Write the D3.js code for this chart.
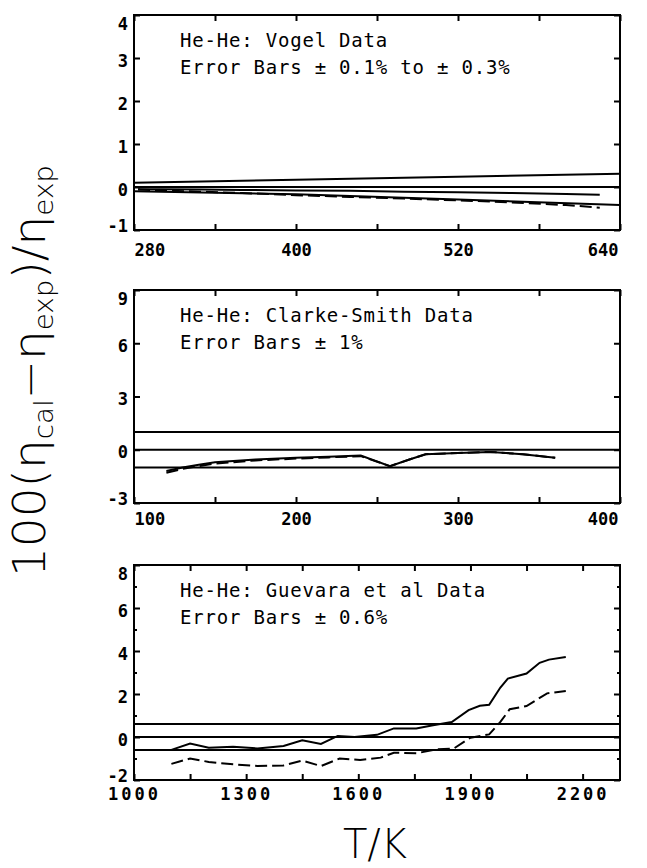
<!DOCTYPE html>
<html>
<head>
<meta charset="utf-8">
<script src="https://cdn.jsdelivr.net/npm/d3@7/dist/d3.min.js"></script>
<style>
  body { margin: 0; background: #fff; }
  svg { display: block; }
</style>
</head>
<body>
<svg id="chart" width="647" height="868"></svg>
<script>
// Vogel data (top panel)
var vogelT       = [283, 300, 330, 360, 400, 440, 480, 520, 560, 600, 625];
var vogelSolid   = [-0.05, -0.05, -0.06, -0.07, -0.08, -0.09, -0.11, -0.12, -0.14, -0.16, -0.18];
var vogelDashed  = [-0.06, -0.08, -0.11, -0.14, -0.19, -0.23, -0.27, -0.31, -0.36, -0.42, -0.48];
var vogelErrT    = [280, 400, 520, 640];
var vogelErrUp   = [0.10, 0.17, 0.24, 0.31];
var vogelErrLow  = [-0.10, -0.17, -0.29, -0.42];

// Clarke-Smith data (middle panel)
var clarkeT      = [120, 130, 140, 150, 175, 200, 220, 240, 258, 270, 280, 300, 320, 340, 360];
var clarkeSolid  = [-1.2, -1.0, -0.85, -0.7, -0.55, -0.45, -0.4, -0.33, -0.92, -0.55, -0.25, -0.18, -0.12, -0.25, -0.45];
var clarkeDashed = [-1.3, -1.08, -0.92, -0.78, -0.6, -0.5, -0.43, -0.36, -0.92, -0.55, -0.25, -0.18, -0.12, -0.25, -0.45];
var clarkeErr    = 1;

// Guevara et al data (bottom panel)
var guevaraT       = [1100, 1150, 1200, 1265, 1330, 1400, 1450, 1500, 1545, 1590, 1650, 1695, 1755, 1800, 1850, 1895, 1925, 1950, 1980, 2000, 2050, 2085, 2110, 2155];
var guevaraSolid   = [-0.6, -0.3, -0.5, -0.45, -0.53, -0.42, -0.15, -0.32, 0.05, 0.0, 0.1, 0.4, 0.4, 0.55, 0.7, 1.25, 1.45, 1.5, 2.3, 2.72, 2.95, 3.45, 3.6, 3.72];
var guevaraDashT   = [1100, 1150, 1200, 1265, 1330, 1400, 1450, 1500, 1550, 1605, 1660, 1695, 1755, 1810, 1855, 1900, 1950, 1980, 2005, 2050, 2105, 2155];
var guevaraDashed  = [-1.25, -1.0, -1.16, -1.27, -1.35, -1.32, -1.1, -1.35, -1.0, -1.07, -0.96, -0.73, -0.76, -0.57, -0.54, -0.03, 0.12, 0.7, 1.29, 1.44, 2.03, 2.14];
var guevaraErr     = 0.6;

// ticks and labels
var p1XTicks = [280, 340, 400, 460, 520, 580, 640];
var p1XLabels = [280, 400, 520, 640];
var p1YTicks = [-1, 0, 1, 2, 3, 4];
var p2XTicks = [100, 150, 200, 250, 300, 350, 400];
var p2XLabels = [100, 200, 300, 400];
var p2YTicks = [-3, 0, 3, 6, 9];
var p3XTicks = [1000, 1150, 1300, 1450, 1600, 1750, 1900, 2050, 2200];
var p3XLabels = [1000, 1300, 1600, 1900, 2200];
var p3YTicks = [-2, 0, 2, 4, 6, 8];
var p3YMinor = [-1, 1, 3, 5, 7];

var svg = d3.select('#chart');
svg.append('rect').attr('width', 647).attr('height', 868).attr('fill', '#fff');

var left = 134, right = 620;
var monoFont = '"DejaVu Sans Mono", "Liberation Mono", monospace';

function zip(xs, ys) {
    return xs.map(function(v, i) { return [v, ys[i]]; });
}

function drawPanel(p) {
    var x = d3.scaleLinear().domain(p.xDomain).range([left, right]);
    var y = d3.scaleLinear().domain(p.yDomain).range([p.bottom, p.top]);
    var g = svg.append('g');

    var line = d3.line().x(function(d) { return x(d[0]); }).y(function(d) { return y(d[1]); });

    // zero line and error bar lines
    g.append('path').attr('d', line([[p.xDomain[0], 0], [p.xDomain[1], 0]]))
        .attr('stroke', '#000').attr('stroke-width', 2).attr('fill', 'none');
    p.bounds.forEach(function(b) {
        g.append('path').attr('d', line(b))
            .attr('stroke', '#000').attr('stroke-width', 2).attr('fill', 'none');
    });

    // data lines
    p.series.forEach(function(s) {
        g.append('path').attr('d', line(s.data))
            .attr('stroke', '#000').attr('stroke-width', 2).attr('fill', 'none')
            .attr('stroke-dasharray', s.dash ? '12,5' : null);
    });

    var fmtX = function(d) { return p.xLabels.indexOf(d) >= 0 ? d : ''; };

    var bottomAxis = g.append('g').attr('transform', 'translate(0,' + p.bottom + ')')
        .call(d3.axisBottom(x).tickValues(p.xTicks).tickSize(-6).tickFormat(fmtX));
    g.append('g').attr('transform', 'translate(0,' + p.top + ')')
        .call(d3.axisTop(x).tickValues(p.xTicks).tickSize(-6).tickFormat(''));
    var leftAxis = g.append('g').attr('transform', 'translate(' + left + ',0)')
        .call(d3.axisLeft(y).tickValues(p.yTicks).tickSize(-6).tickFormat(function(d) { return d; }));
    g.append('g').attr('transform', 'translate(' + right + ',0)')
        .call(d3.axisRight(y).tickValues(p.yTicks).tickSize(-6).tickFormat(''));
    if (p.yMinor) {
        g.append('g').attr('transform', 'translate(' + left + ',0)')
            .call(d3.axisLeft(y).tickValues(p.yMinor).tickSize(-3).tickFormat(''));
        g.append('g').attr('transform', 'translate(' + right + ',0)')
            .call(d3.axisRight(y).tickValues(p.yMinor).tickSize(-3).tickFormat(''));
    }

    g.selectAll('.domain').remove();
    g.selectAll('.tick line').attr('stroke', '#000').attr('stroke-width', 2);
    g.selectAll('.tick text').attr('font-family', monoFont).attr('font-weight', 'bold')
        .attr('font-size', 17).attr('fill', '#000');

    // x labels: end ones pulled inside the box
    bottomAxis.selectAll('.tick text').each(function(d) {
        var t = d3.select(this).attr('y', p.xLabelY).attr('dy', 0)
            .attr('letter-spacing', p.xSpacing || 0);
        if (d === p.xDomain[0] && p.xClampLeft) t.attr('text-anchor', 'start').attr('x', 0);
        if (d === p.xDomain[1]) t.attr('text-anchor', 'end').attr('x', -2);
    });

    // y labels: end ones kept within the box height
    leftAxis.selectAll('.tick text').each(function(d) {
        var yy = y(d);
        var c = Math.min(Math.max(yy + 2, p.top + 8), p.bottom - 5);
        d3.select(this).attr('x', -6).attr('y', c - yy).attr('dy', '0.36em');
    });

    // frame
    g.append('rect').attr('x', left).attr('y', p.top)
        .attr('width', right - left).attr('height', p.bottom - p.top)
        .attr('fill', 'none').attr('stroke', '#000').attr('stroke-width', 2);

    // annotation
    p.notes.forEach(function(n, i) {
        g.append('text').attr('x', 180).attr('y', p.top + 32 + i * 26.5)
            .attr('font-family', monoFont).attr('font-size', 19)
            .attr('letter-spacing', 0.8).attr('fill', '#000')
            .text(n);
    });
}

drawPanel({
    top: 15, bottom: 230, xDomain: [280, 640], yDomain: [-1, 4],
    xTicks: p1XTicks, xLabels: p1XLabels, yTicks: p1YTicks, xLabelY: 26, xClampLeft: true,
    bounds: [zip(vogelErrT, vogelErrUp), zip(vogelErrT, vogelErrLow)],
    series: [{ data: zip(vogelT, vogelSolid) }, { data: zip(vogelT, vogelDashed), dash: true }],
    notes: ['He-He: Vogel Data', 'Error Bars \u00b1 0.1% to \u00b1 0.3%']
});

drawPanel({
    top: 290, bottom: 503, xDomain: [100, 400], yDomain: [-3, 9],
    xTicks: p2XTicks, xLabels: p2XLabels, yTicks: p2YTicks, xLabelY: 21.5, xClampLeft: true,
    bounds: [[[100, clarkeErr], [400, clarkeErr]], [[100, -clarkeErr], [400, -clarkeErr]]],
    series: [{ data: zip(clarkeT, clarkeSolid) }, { data: zip(clarkeT, clarkeDashed), dash: true }],
    notes: ['He-He: Clarke-Smith Data', 'Error Bars \u00b1 1%']
});

drawPanel({
    top: 565, bottom: 780, xDomain: [1000, 2300], yDomain: [-2, 8],
    xTicks: p3XTicks, xLabels: p3XLabels, yTicks: p3YTicks, yMinor: p3YMinor, xLabelY: 20, xSpacing: 3,
    bounds: [[[1000, guevaraErr], [2300, guevaraErr]], [[1000, -guevaraErr], [2300, -guevaraErr]]],
    series: [{ data: zip(guevaraT, guevaraSolid) }, { data: zip(guevaraDashT, guevaraDashed), dash: true }],
    notes: ['He-He: Guevara et al Data', 'Error Bars \u00b1 0.6%']
});

// y title, rotated and squeezed to fit its span
var lightFont = '"DejaVu Sans", "Liberation Sans", sans-serif';
var ytitle = svg.append('text').attr('font-family', lightFont).attr('font-weight', 200)
    .attr('font-size', 44).attr('fill', '#000');
ytitle.append('tspan').text('100(');
ytitle.append('tspan').text('\u03b7');
ytitle.append('tspan').attr('font-size', 26).attr('dy', 8).text('cal');
ytitle.append('tspan').attr('dy', -8).text('\u2212');
ytitle.append('tspan').text('\u03b7');
ytitle.append('tspan').attr('font-size', 26).attr('dy', 8).text('exp');
ytitle.append('tspan').attr('dy', -8).text(')/');
ytitle.append('tspan').text('\u03b7');
ytitle.append('tspan').attr('font-size', 26).attr('dy', 8).text('exp');
var tw = ytitle.node().getComputedTextLength();
var ts = 412 / tw;
ytitle.attr('transform', 'translate(45,371) rotate(-90) scale(' + ts + ',1) translate(' + (-tw / 2) + ',0)');

svg.append('text').attr('x', 375).attr('y', 858).attr('text-anchor', 'middle')
    .attr('font-family', lightFont).attr('font-weight', 200).attr('font-size', 40)
    .attr('fill', '#000').text('T/K');
</script>
</body>
</html>
